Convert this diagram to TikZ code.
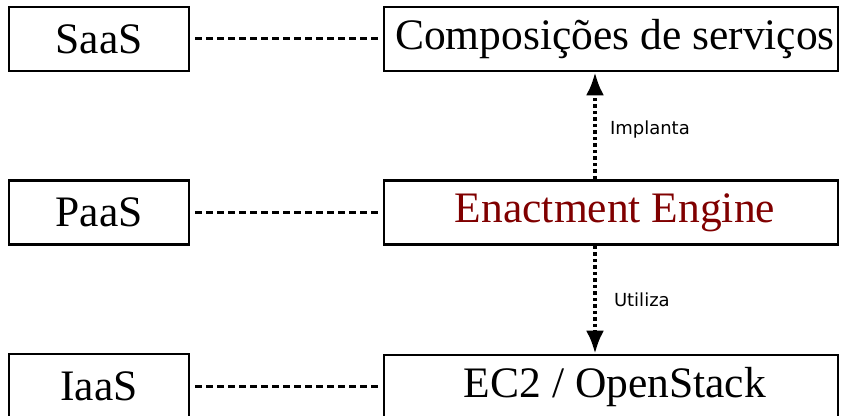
\documentclass[tikz,border=0pt]{standalone}
\usepackage{fontspec}
\setmainfont{Liberation Serif}
\newfontfamily\labelfont{DejaVu Sans}
\usetikzlibrary{arrows.meta,calc}
\definecolor{enactred}{RGB}{128,0,0}
\tikzset{
  layerbox/.style={draw=black, line width=2.6pt, inner sep=0pt,
    minimum height=64pt, font=\fontsize{43.5}{50}\selectfont},
  layername/.style={layerbox, minimum width=180pt},
  layerpart/.style={layerbox, minimum width=454pt,
    execute at begin node=\hspace*{8pt}},
  tie/.style={line width=3pt, dash pattern=on 7pt off 4pt,
    shorten <=5pt, shorten >=4pt},
  flow/.style={line width=4pt, dash pattern=on 3.5pt off 3pt,
    -{Latex[length=23pt,width=18pt]}},
  flowlabel/.style={font=\labelfont\fontsize{18}{20}\selectfont, inner sep=0pt}
}
\begin{document}
\begin{tikzpicture}[x=1pt,y=1pt]
  \useasboundingbox (0,0) rectangle (842,415);
  \clip (0,0) rectangle (842,415);
  % layer names on the left
  \node[layername] (saas) at (99,376) {SaaS};
  \node[layername] (paas) at (99,202.5) {PaaS};
  \node[layername] (iaas) at (99,29) {IaaS};
  % components on the right
  \node[layerpart] (comp) at (611,376) {Composições de serviços};
  \node[layerpart] (engine) at (611,202.5) {\color{enactred}Enactment Engine};
  \node[layerpart] (infra) at (611,28) {EC2 / OpenStack};
  % dashed ties between each layer and its component
  \draw[tie] (saas.east) -- (comp.west);
  \draw[tie] (paas.east) -- (engine.west);
  \draw[tie] (iaas.east) -- (infra.west |- iaas.east);
  % dotted arrows
  \coordinate (ax) at (595,0);
  \draw[flow] (engine.north -| ax) -- (comp.south -| ax)
    node[midway, right=13pt, yshift=-4pt, flowlabel] {Implanta};
  \draw[flow] (engine.south -| ax) -- (infra.north -| ax)
    node[midway, right=17pt, flowlabel] {Utiliza};
\end{tikzpicture}
\end{document}
